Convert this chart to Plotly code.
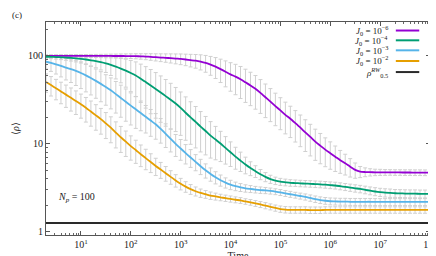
import numpy as np
import plotly.graph_objects as go

# ---------------- data ----------------
log10_time = [0.3, 0.4, 0.5, 0.6, 0.7, 0.8, 0.9, 1.0, 1.1, 1.2,
              1.3, 1.4, 1.5, 1.6, 1.7, 1.8, 1.9, 2.0, 2.1, 2.2,
              2.3, 2.4, 2.5, 2.6, 2.7, 2.8, 2.9, 3.0, 3.1, 3.2,
              3.3, 3.4, 3.5, 3.6, 3.7, 3.8, 3.9, 4.0, 4.1, 4.2,
              4.3, 4.4, 4.5, 4.6, 4.7, 4.8, 4.9, 5.0, 5.1, 5.2,
              5.3, 5.4, 5.5, 5.6, 5.7, 5.8, 5.9, 6.0, 6.1, 6.2,
              6.3, 6.4, 6.5, 6.6, 6.7, 6.8, 6.9, 7.0, 7.1, 7.2,
              7.3, 7.4, 7.5, 7.6, 7.7, 7.8, 7.9, 8.0]

rho_j6 = [100.0, 100.0, 100.0, 100.0, 100.0, 100.0, 100.0, 99.9, 99.9, 99.9,
          99.9, 99.8, 99.8, 99.8, 99.7, 99.7, 99.6, 99.5, 99.2, 98.8,
          98.2, 97.5, 96.6, 95.8, 95.0, 94.2, 93.2, 92.3, 91.0, 89.5,
          88.1, 86.0, 83.2, 79.4, 75.5, 70.8, 66.1, 61.7, 58.2, 54.3,
          50.1, 46.2, 42.3, 38.0, 33.9, 30.2, 26.9, 24.0, 21.4, 19.3,
          17.2, 15.3, 13.5, 12.0, 10.6, 9.55, 8.61, 7.85, 7.16, 6.53,
          6.03, 5.50, 5.07, 4.84, 4.79, 4.77, 4.76, 4.76, 4.75, 4.75,
          4.74, 4.74, 4.73, 4.73, 4.72, 4.72, 4.71, 4.71]
err_j6 = [3.0, 3.0, 3.0, 3.1, 3.2, 3.3, 3.4, 3.5, 3.7, 3.9,
          4.1, 4.3, 4.6, 4.9, 5.2, 5.5, 5.8, 6.1, 6.6, 7.1,
          7.7, 8.4, 9.0, 9.7, 10.4, 11.2, 12.0, 12.8, 13.6, 14.6,
          15.6, 16.8, 18.0, 19.2, 20.2, 21.0, 21.6, 22.0, 22.0, 21.5,
          20.5, 19.0, 17.5, 15.8, 14.0, 12.3, 10.8, 9.5, 8.4, 7.5,
          6.7, 6.0, 5.3, 4.7, 4.1, 3.6, 3.1, 2.7, 2.3, 1.9,
          1.6, 1.3, 1.0, 0.7, 0.55, 0.45, 0.4, 0.38, 0.36, 0.35,
          0.35, 0.35, 0.35, 0.35, 0.35, 0.35, 0.35, 0.35]

rho_j4 = [97.7, 97.5, 97.0, 96.4, 95.7, 94.8, 93.8, 92.5, 91.0, 89.1,
          87.1, 84.7, 82.0, 78.9, 75.5, 71.8, 67.9, 64.0, 60.0, 55.1,
          50.5, 46.0, 42.1, 38.4, 34.9, 31.8, 28.8, 25.7, 22.6, 20.0,
          17.8, 15.7, 14.0, 12.4, 11.2, 10.1, 9.0, 8.04, 7.16, 6.46,
          5.82, 5.31, 4.90, 4.52, 4.22, 3.98, 3.82, 3.72, 3.66, 3.61,
          3.59, 3.56, 3.54, 3.52, 3.49, 3.47, 3.44, 3.40, 3.37, 3.31,
          3.25, 3.19, 3.13, 3.08, 3.01, 2.94, 2.88, 2.83, 2.79, 2.77,
          2.75, 2.74, 2.73, 2.72, 2.72, 2.71, 2.71, 2.70]
err_j4 = [4.0, 4.5, 5.0, 5.7, 6.5, 7.4, 8.4, 9.5, 10.8, 12.2,
          13.8, 15.5, 17.2, 19.0, 20.8, 22.4, 23.8, 24.8, 25.4, 25.5,
          25.0, 24.0, 22.5, 20.8, 19.0, 17.0, 15.0, 13.2, 11.6, 10.1,
          8.8, 7.6, 6.5, 5.5, 4.6, 3.8, 3.1, 2.5, 2.0, 1.6,
          1.25, 0.95, 0.75, 0.6, 0.5, 0.42, 0.37, 0.34, 0.32, 0.31,
          0.3, 0.3, 0.3, 0.3, 0.3, 0.3, 0.3, 0.3, 0.3, 0.3,
          0.3, 0.3, 0.3, 0.3, 0.3, 0.3, 0.3, 0.3, 0.3, 0.3,
          0.28, 0.28, 0.28, 0.28, 0.28, 0.28, 0.28, 0.28]

rho_j3 = [85.9, 83.2, 80.2, 76.9, 73.5, 70.8, 67.6, 64.0, 60.0, 56.0,
          52.0, 48.1, 44.3, 40.6, 36.8, 33.3, 30.1, 27.2, 24.7, 22.4,
          20.3, 18.4, 16.7, 14.8, 13.0, 11.4, 10.0, 8.87, 7.87, 7.01,
          6.25, 5.58, 5.01, 4.55, 4.17, 3.87, 3.63, 3.44, 3.31, 3.21,
          3.13, 3.08, 3.03, 2.99, 2.96, 2.92, 2.87, 2.81, 2.74, 2.68,
          2.62, 2.56, 2.50, 2.43, 2.36, 2.30, 2.26, 2.23, 2.22, 2.21,
          2.21, 2.20, 2.20, 2.20, 2.20, 2.20, 2.19, 2.19, 2.19, 2.19,
          2.19, 2.19, 2.19, 2.19, 2.19, 2.19, 2.19, 2.19]
err_j3 = [15.0, 16.5, 18.0, 19.2, 20.2, 21.0, 21.5, 21.5, 21.0, 20.0,
          19.0, 18.0, 16.8, 15.6, 14.4, 13.2, 12.0, 10.8, 9.7, 8.3,
          7.0, 6.2, 5.4, 4.6, 3.9, 3.3, 2.8, 2.35, 1.95, 1.6,
          1.3, 1.1, 0.92, 0.78, 0.66, 0.56, 0.48, 0.42, 0.37, 0.33,
          0.3, 0.28, 0.26, 0.25, 0.24, 0.23, 0.22, 0.22, 0.21, 0.21,
          0.2, 0.2, 0.2, 0.2, 0.2, 0.2, 0.2, 0.2, 0.2, 0.2,
          0.2, 0.2, 0.2, 0.2, 0.2, 0.2, 0.2, 0.2, 0.2, 0.2,
          0.2, 0.2, 0.2, 0.2, 0.2, 0.2, 0.2, 0.2]

rho_j2 = [50.5, 46.6, 42.9, 39.4, 36.3, 33.4, 30.8, 28.2, 25.7, 23.3,
          21.1, 19.1, 17.1, 15.3, 13.4, 11.9, 10.6, 9.44, 8.51, 7.62,
          6.89, 6.22, 5.62, 5.11, 4.65, 4.22, 3.85, 3.53, 3.27, 3.06,
          2.90, 2.77, 2.68, 2.59, 2.53, 2.47, 2.42, 2.37, 2.32, 2.28,
          2.22, 2.17, 2.11, 2.05, 1.99, 1.93, 1.87, 1.82, 1.79, 1.78,
          1.78, 1.78, 1.78, 1.77, 1.77, 1.77, 1.78, 1.78, 1.78, 1.78,
          1.78, 1.78, 1.78, 1.78, 1.78, 1.78, 1.78, 1.78, 1.78, 1.78,
          1.78, 1.78, 1.78, 1.78, 1.78, 1.78, 1.78, 1.78]
err_j2 = [12.0, 11.6, 11.2, 10.8, 10.3, 9.8, 9.2, 8.6, 8.0, 7.4,
          6.8, 6.2, 5.6, 5.0, 4.4, 3.9, 3.4, 2.9, 2.5, 2.1,
          1.8, 1.5, 1.25, 1.05, 0.88, 0.74, 0.62, 0.53, 0.45, 0.39,
          0.34, 0.3, 0.27, 0.25, 0.23, 0.21, 0.2, 0.19, 0.18, 0.17,
          0.16, 0.16, 0.16, 0.16, 0.16, 0.15, 0.15, 0.15, 0.15, 0.15,
          0.15, 0.15, 0.15, 0.15, 0.15, 0.15, 0.15, 0.15, 0.15, 0.15,
          0.15, 0.15, 0.15, 0.15, 0.15, 0.15, 0.15, 0.15, 0.15, 0.15,
          0.15, 0.15, 0.15, 0.15, 0.15, 0.15, 0.15, 0.15]

rho_rw = 1.26  # rho^RW_0.5
n_particles = 100

series_labels = ["<i>J</i><sub>0</sub> = 10<sup>−6</sup>",
                 "<i>J</i><sub>0</sub> = 10<sup>−4</sup>",
                 "<i>J</i><sub>0</sub> = 10<sup>−3</sup>",
                 "<i>J</i><sub>0</sub> = 10<sup>−2</sup>"]
rw_label = "<i>ρ</i><sup><i>RW</i></sup><sub>0.5</sub>"
series_colors = ["#9400D3", "#009E73", "#56B4E9", "#E69F00"]
rw_color = "#2a2a2a"

x_tick_exp = [1, 2, 3, 4, 5, 6, 7, 8]
y_tick_vals = [1, 10, 100]
# -------------------------------------

means = [rho_j6, rho_j4, rho_j3, rho_j2]
errs = [err_j6, err_j4, err_j3, err_j2]
for m, e in zip(means, errs):
    assert len(m) == len(log10_time) and len(e) == len(log10_time)

time = [10 ** v for v in log10_time]

FONT = "Liberation Serif"
fig = go.Figure()

# error bars first (under all lines)
for m, e in zip(means, errs):
    fig.add_trace(go.Scatter(
        x=time, y=m, mode="markers", marker=dict(size=1, opacity=0),
        error_y=dict(type="data", array=e, visible=True, color="#d0d0d0",
                     thickness=1, width=2),
        hoverinfo="skip", showlegend=False))

# reference line
fig.add_trace(go.Scatter(x=[time[0], time[-1]], y=[rho_rw, rho_rw], mode="lines",
                         line=dict(color=rw_color, width=2), showlegend=False))

for m, c in zip(means, series_colors):
    fig.add_trace(go.Scatter(x=time, y=m, mode="lines",
                             line=dict(color=c, width=1.8, shape="spline", smoothing=0.6),
                             showlegend=False))

axis_common = dict(showline=True, linecolor="#555", linewidth=1, mirror="allticks",
                   ticks="inside", ticklen=4, tickcolor="#555", showgrid=False,
                   zeroline=False,
                   minor=dict(ticks="inside", ticklen=2, tickcolor="#666", dtick="D1",
                              showgrid=False))

fig.update_xaxes(type="log", range=[log10_time[0], log10_time[-1]],
                 tickvals=[10 ** k for k in x_tick_exp],
                 ticktext=[f"10<sup>{k}</sup>" for k in x_tick_exp],
                 title=dict(text="Time", standoff=0, font=dict(size=10)),
                 **axis_common)
fig.update_yaxes(type="log", range=[-0.035, 2.385],
                 tickvals=y_tick_vals, ticktext=[str(v) for v in y_tick_vals],
                 title=dict(text="⟨<i>ρ</i>⟩", standoff=6, font=dict(size=10)),
                 **axis_common)

# legend drawn as text + line samples (text left of sample)
legend_labels = series_labels + [rw_label]
legend_colors = series_colors + [rw_color]
row_y = [0.960, 0.914, 0.867, 0.817, 0.765]
for lab, col, yy in zip(legend_labels, legend_colors, row_y):
    fig.add_annotation(xref="paper", yref="paper", x=0.897, y=yy, text=lab,
                       showarrow=False, xanchor="right", yanchor="middle",
                       font=dict(size=9))
    fig.add_shape(type="line", xref="paper", yref="paper", x0=0.911, x1=0.972,
                  y0=yy, y1=yy, line=dict(color=col, width=2))

fig.add_annotation(xref="paper", yref="paper", x=0.026, y=0.177,
                   text=f"<i>N</i><sub><i>p</i></sub> = {n_particles}",
                   showarrow=False, xanchor="left", yanchor="middle", font=dict(size=10))
fig.add_annotation(xref="paper", yref="paper", x=-0.094, y=1.035, text="(c)",
                   showarrow=False, xanchor="left", yanchor="middle", font=dict(size=9))

fig.update_layout(width=436, height=256, margin=dict(l=37, r=7, t=14, b=22),
                  plot_bgcolor="white", paper_bgcolor="white", showlegend=False,
                  font=dict(family=FONT, size=10, color="#222"))

fig.write_html("out.html")
